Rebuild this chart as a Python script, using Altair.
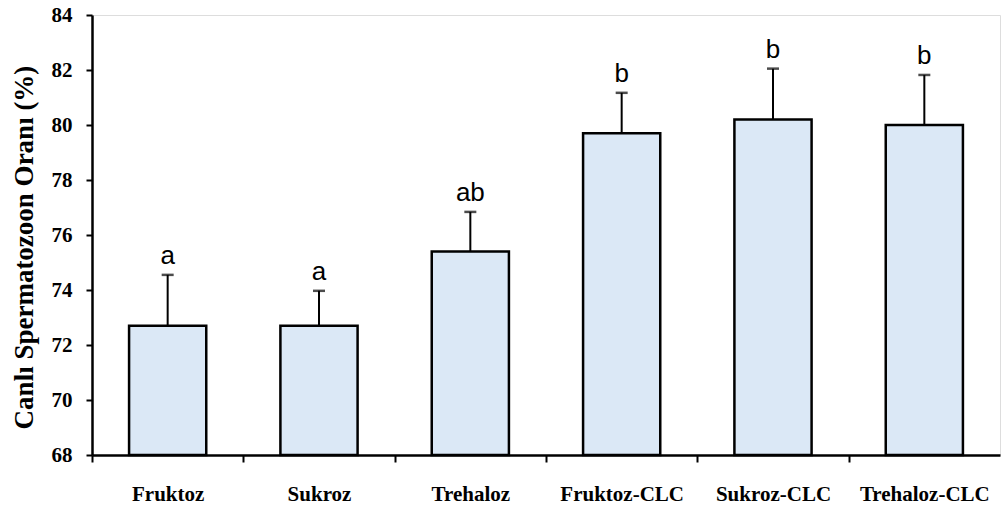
import altair as alt
import pandas as pd

# Viability of spermatozoa by extender group (mean, standard error, significance letter)
groups = ["Fruktoz", "Sukroz", "Trehaloz", "Fruktoz-CLC", "Sukroz-CLC", "Trehaloz-CLC"]
means = [72.7, 72.7, 75.4, 79.7, 80.2, 80.0]
errors = [1.85, 1.27, 1.44, 1.47, 1.85, 1.82]
letters = ["a", "a", "ab", "b", "b", "b"]
y_ticks = [68, 70, 72, 74, 76, 78, 80, 82, 84]

df = pd.DataFrame({"grup": groups, "ort": means, "se": errors, "harf": letters})
df["ust"] = df["ort"] + df["se"]

W, H = 908, 440
step = W / len(groups)

x_enc = alt.X(
    "grup:N",
    sort=groups,
    title=None,
    scale=alt.Scale(paddingInner=0.49, paddingOuter=0.245),
    axis=alt.Axis(
        labelAngle=0,
        labelFont="Liberation Serif",
        labelFontWeight="bold",
        labelFontSize=21,
        labelColor="black",
        labelPadding=21,
        labelOffset=step / 2,
        tickOffset=-step / 2,
        tickSize=7,
        tickWidth=2,
        tickColor="black",
        domainColor="black",
        domainWidth=2.5,
        grid=False,
    ),
)

y_scale = alt.Scale(domain=[68, 84], nice=False, zero=False)

bars = alt.Chart(df).mark_bar(
    fill="#dbe8f6", stroke="black", strokeWidth=2.5
).encode(
    x=x_enc,
    y=alt.Y(
        "ort:Q",
        scale=y_scale,
        title="Canlı Spermatozoon Oranı (%)",
        axis=alt.Axis(
            values=y_ticks,
            format="d",
            labelFont="Liberation Serif",
            labelFontWeight="bold",
            labelFontSize=21,
            labelColor="black",
            labelPadding=14,
            tickSize=6,
            tickWidth=2,
            tickColor="black",
            domainColor="black",
            domainWidth=2.5,
            grid=False,
            titleFont="Liberation Serif",
            titleFontWeight="bold",
            titleFontSize=27,
            titleColor="black",
            titleAngle=-90,
            titleAlign="center",
            titleBaseline="alphabetic",
            titleX=-60,
            titleY=H / 2 + 12,
        ),
    ),
    y2=alt.datum(68),
)

whisker = alt.Chart(df).mark_rule(color="black", strokeWidth=2).encode(
    x=alt.X("grup:N", sort=groups),
    y=alt.Y("ort:Q", scale=y_scale),
    y2="ust:Q",
)

caps = alt.Chart(df).mark_tick(
    color="black", orient="horizontal", size=12, thickness=2.5
).encode(
    x=alt.X("grup:N", sort=groups),
    y=alt.Y("ust:Q", scale=y_scale),
)

labels = alt.Chart(df).mark_text(
    font="Liberation Sans", fontSize=26, color="black", baseline="bottom", dy=-6
).encode(
    x=alt.X("grup:N", sort=groups),
    y=alt.Y("ust:Q", scale=y_scale),
    text="harf:N",
)

chart = (
    alt.layer(bars, whisker, caps, labels)
    .properties(
        width=W,
        height=H,
        autosize=alt.AutoSizeParams(type="none"),
        padding={"left": 92, "top": 15, "right": 1, "bottom": 51},
    )
    .configure_view(stroke=None)
    .configure(background="white")
)

chart.save("out.html", embed_options={"renderer": "svg", "actions": False})
